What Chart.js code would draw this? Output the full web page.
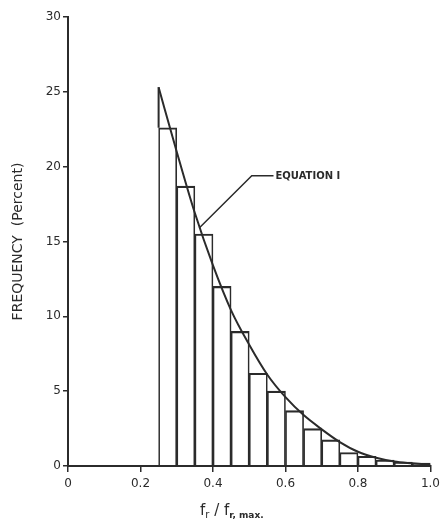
<!DOCTYPE html>
<html>
<head>
<meta charset="utf-8">
<script src="https://cdn.jsdelivr.net/npm/chart.js@4.4.1/dist/chart.umd.min.js"></script>
<style>
  html, body { margin: 0; padding: 0; background: #fff; }
  #wrap { width: 445px; height: 527px; }
</style>
</head>
<body>
<div id="wrap"><canvas id="freqChart" width="445" height="527"></canvas></div>
<script>
// histogram bins (left edge of each bin) and frequency in percent
const binStart = [0.25, 0.30, 0.35, 0.40, 0.45, 0.50, 0.55, 0.60, 0.65, 0.70, 0.75, 0.80, 0.85, 0.90, 0.95];
const binWidth = 0.05;
const freq = [22.6, 18.7, 15.5, 12.0, 9.0, 6.2, 5.0, 3.7, 2.5, 1.75, 0.9, 0.65, 0.4, 0.27, 0.2];

// Equation 1 curve
const curveX = [0.25, 0.30, 0.35, 0.40, 0.45, 0.50, 0.55, 0.60, 0.65, 0.70, 0.75, 0.80, 0.85, 0.90, 0.95, 1.00];
const curveY = [25.3, 21.0, 16.9, 13.4, 10.4, 8.1, 6.1, 4.6, 3.4, 2.45, 1.6, 0.95, 0.55, 0.3, 0.18, 0.08];
// short drop at the start of the curve down to the first bar
const dropX = [0.25, 0.25];
const dropY = [22.6, 25.3];

const xTicks = [0, 0.2, 0.4, 0.6, 0.8, 1.0];
const yTicks = [0, 5, 10, 15, 20, 25, 30];

// leader line to the "EQUATION 1" label (data coordinates)
const leaderX = [0.362, 0.507, 0.567];
const leaderY = [15.9, 19.4, 19.4];
const eqLabel = "EQUATION I";

const ink = "#2b2b2b";
const tickFont = { family: "DejaVu Sans", size: 12 };

const histData = binStart.map((b, i) => ({ x: b + binWidth / 2, y: freq[i] }));
const curveData = curveX.map((v, i) => ({ x: v, y: curveY[i] }));
const dropData = dropX.map((v, i) => ({ x: v, y: dropY[i] }));

// draws the x title with subscripts and the equation label
const extras = {
    id: "extras",
    afterDraw(chart) {
        const { ctx, chartArea, scales: { x, y } } = chart;
        ctx.save();

        // leader line
        ctx.strokeStyle = ink;
        ctx.lineWidth = 1.5;
        ctx.beginPath();
        leaderX.forEach((v, i) => {
            const px = x.getPixelForValue(v), py = y.getPixelForValue(leaderY[i]);
            if (i === 0) ctx.moveTo(px, py); else ctx.lineTo(px, py);
        });
        ctx.stroke();

        ctx.fillStyle = ink;
        ctx.font = "bold 10px 'DejaVu Sans'";
        ctx.textBaseline = "middle";
        ctx.textAlign = "left";
        ctx.fillText(eqLabel, x.getPixelForValue(leaderX[2]) + 2, y.getPixelForValue(leaderY[2]) + 1);

        // x axis title: f_r / f_r,max.
        const parts = [
            { t: "f", font: "15px 'DejaVu Sans'", dy: 0 },
            { t: "r", font: "10px 'DejaVu Sans'", dy: 3 },
            { t: " / ", font: "15px 'DejaVu Sans'", dy: 0 },
            { t: "f", font: "15px 'DejaVu Sans'", dy: 0 },
            { t: "r, max.", font: "bold 9px 'DejaVu Sans'", dy: 3 }
        ];
        ctx.textBaseline = "alphabetic";
        let total = 0;
        parts.forEach(p => { ctx.font = p.font; p.w = ctx.measureText(p.t).width; total += p.w; });
        let cx = chartArea.left + 0.452 * (chartArea.right - chartArea.left) - total / 2;
        const base = chartArea.bottom + 49;
        parts.forEach(p => {
            ctx.font = p.font;
            ctx.fillText(p.t, cx, base + p.dy);
            cx += p.w;
        });
        ctx.restore();
    }
};

const ctx = document.getElementById("freqChart").getContext("2d");
new Chart(ctx, {
    data: {
        datasets: [
            {
                type: "line",
                label: "Equation 1",
                data: curveData,
                borderColor: ink,
                borderWidth: 2,
                pointRadius: 0,
                cubicInterpolationMode: "monotone",
                fill: false,
                order: 0
            },
            {
                type: "line",
                label: "start",
                data: dropData,
                borderColor: ink,
                borderWidth: 2,
                pointRadius: 0,
                fill: false,
                order: 0
            },
            {
                type: "bar",
                label: "Frequency",
                data: histData,
                backgroundColor: "rgba(255,255,255,0)",
                borderColor: ink,
                borderWidth: { top: 1.5, left: 1, right: 1, bottom: 0 },
                borderSkipped: false,
                barPercentage: 1,
                categoryPercentage: 1,
                order: 1
            }
        ]
    },
    options: {
        responsive: false,
        animation: false,
        layout: { padding: { top: 17, right: 10, bottom: 0, left: 0 } },
        plugins: {
            legend: { display: false },
            tooltip: { enabled: false }
        },
        scales: {
            x: {
                type: "linear",
                min: 0,
                max: 1,
                offset: false,
                afterBuildTicks: s => { s.ticks = xTicks.map(v => ({ value: v })); },
                afterFit: s => { s.height = 61; },
                ticks: {
                    color: ink,
                    font: tickFont,
                    padding: 5,
                    maxRotation: 0,
                    callback: v => (v === 0 ? "0" : v.toFixed(1))
                },
                grid: { offset: false, drawOnChartArea: false, drawTicks: true, tickLength: 6, color: ink, lineWidth: 1.5 },
                border: { display: true, color: ink, width: 2 }
            },
            y: {
                type: "linear",
                min: 0,
                max: 30,
                afterBuildTicks: s => { s.ticks = yTicks.map(v => ({ value: v })); },
                afterFit: s => { s.width = 68; },
                ticks: { color: ink, font: tickFont, padding: 2 },
                grid: { drawOnChartArea: false, drawTicks: true, tickLength: 5, color: ink, lineWidth: 1.5 },
                border: { display: true, color: ink, width: 2 },
                title: {
                    display: true,
                    text: "FREQUENCY  (Percent)",
                    color: ink,
                    font: { family: "DejaVu Sans", size: 14 },
                    padding: { top: 10, bottom: 0 }
                }
            }
        }
    },
    plugins: [extras]
});
</script>
</body>
</html>
